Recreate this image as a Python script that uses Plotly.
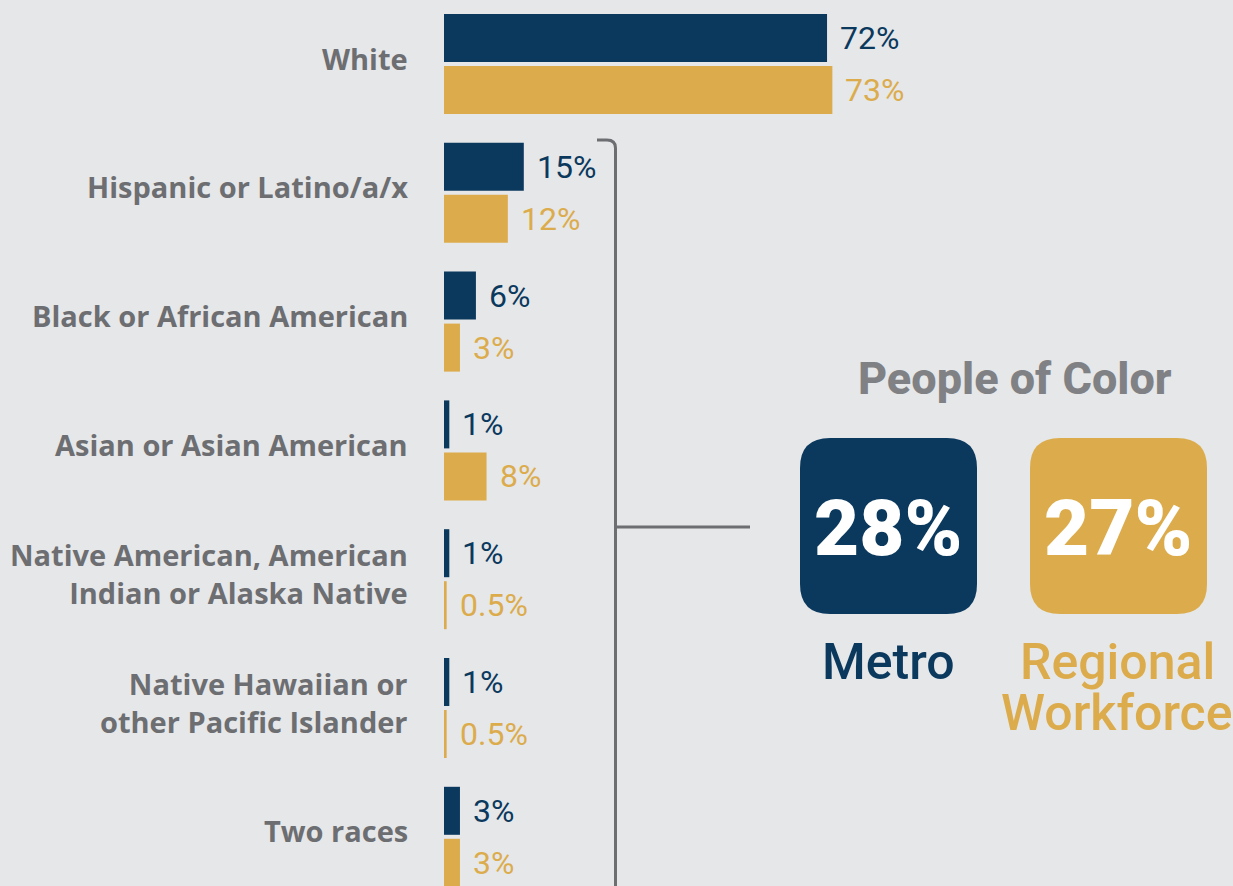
import plotly.graph_objects as go

categories = ["White", "Hispanic or Latino/a/x", "Black or African American",
              "Asian or Asian American",
              "Native American, American<br>Indian or Alaska Native",
              "Native Hawaiian or<br>other Pacific Islander", "Two races"]
metro = [72, 15, 6, 1, 1, 1, 3]
regional = [73, 12, 3, 8, 0.5, 0.5, 3]
metro_labels = ["72%", "15%", "6%", "1%", "1%", "1%", "3%"]
regional_labels = ["73%", "12%", "3%", "8%", "0.5%", "0.5%", "3%"]
series_names = ["Metro", "Regional Workforce"]
poc_title = "People of Color"
poc_values = ["28%", "27%"]

NAVY = "#0b395d"
GOLD = "#dcac4c"
BG = "#e6e7e9"
LABEL_GRAY = "#6d6e71"
TITLE_GRAY = "#808184"

W, H = 1233, 886
L = 444
PW = W - L


def xp(px):
    return (px - L) / PW


def yp(py):
    return 1 - py / H


fig = go.Figure()
fig.add_trace(go.Bar(y=categories, x=metro, orientation="h", name=series_names[0],
                     marker=dict(color=NAVY, line=dict(width=0)), hoverinfo="x+y"))
fig.add_trace(go.Bar(y=categories, x=regional, orientation="h", name=series_names[1],
                     marker=dict(color=GOLD, line=dict(width=0)), hoverinfo="x+y"))

annotations = []
# category labels
for cat in categories:
    annotations.append(dict(x=xp(410), y=cat, xref="paper", yref="y", text=cat, showarrow=False,
                            xanchor="right", yanchor="middle", align="right", yshift=6,
                            font=dict(family="Open Sans", size=29, color=LABEL_GRAY, weight="bold")))
# value labels
for cat, v, t in zip(categories, metro, metro_labels):
    annotations.append(dict(x=v, y=cat, xref="x", yref="y", text=t, showarrow=False,
                            xanchor="left", yanchor="middle", xshift=11, yshift=26,
                            font=dict(family="Roboto", size=32, color=NAVY)))
for cat, v, t in zip(categories, regional, regional_labels):
    annotations.append(dict(x=v, y=cat, xref="x", yref="y", text=t, showarrow=False,
                            xanchor="left", yanchor="middle", xshift=11, yshift=-26,
                            font=dict(family="Roboto", size=32, color=GOLD)))

# right panel
annotations.append(dict(x=xp(1015), y=yp(378), xref="paper", yref="paper", text=poc_title,
                        showarrow=False, xanchor="center", yanchor="middle",
                        font=dict(family="Roboto", size=45, color=TITLE_GRAY, weight=800)))
box_centers = [888, 1118]
box_colors = [NAVY, GOLD]
for cx, val, col in zip(box_centers, poc_values, box_colors):
    annotations.append(dict(x=xp(cx), y=yp(528), xref="paper", yref="paper", text=val,
                            showarrow=False, xanchor="center", yanchor="middle",
                            font=dict(family="Roboto", size=78, color="white", weight=900)))
annotations.append(dict(x=xp(888), y=yp(662), xref="paper", yref="paper", text=series_names[0],
                        showarrow=False, xanchor="center", yanchor="middle",
                        font=dict(family="Roboto", size=50, color=NAVY, weight=500)))
for i, word in enumerate(series_names[1].split(" ")):
    annotations.append(dict(x=xp(1117), y=yp(662 + 51 * i), xref="paper", yref="paper", text=word,
                            showarrow=False, xanchor="center", yanchor="middle",
                            font=dict(family="Roboto", size=50, color=GOLD, weight=500)))


def rounded_rect(x0, y0, x1, y1, r):
    pts = [
        f"M {xp(x0 + r)},{yp(y0)}",
        f"L {xp(x1 - r)},{yp(y0)}",
        f"Q {xp(x1)},{yp(y0)} {xp(x1)},{yp(y0 + r)}",
        f"L {xp(x1)},{yp(y1 - r)}",
        f"Q {xp(x1)},{yp(y1)} {xp(x1 - r)},{yp(y1)}",
        f"L {xp(x0 + r)},{yp(y1)}",
        f"Q {xp(x0)},{yp(y1)} {xp(x0)},{yp(y1 - r)}",
        f"L {xp(x0)},{yp(y0 + r)}",
        f"Q {xp(x0)},{yp(y0)} {xp(x0 + r)},{yp(y0)}",
        "Z",
    ]
    return " ".join(pts)


shapes = []
for cx, col in zip(box_centers, box_colors):
    shapes.append(dict(type="path", xref="paper", yref="paper",
                       path=rounded_rect(cx - 88, 438, cx + 89, 614, 30),
                       fillcolor=col, line=dict(width=0), layer="below"))

# bracket
bracket = (f"M {xp(597)},{yp(140)} L {xp(607)},{yp(140)} "
           f"Q {xp(615.5)},{yp(140)} {xp(615.5)},{yp(148)} L {xp(615.5)},{yp(900)}")
shapes.append(dict(type="path", xref="paper", yref="paper", path=bracket,
                   line=dict(color=LABEL_GRAY, width=3)))
shapes.append(dict(type="line", xref="paper", yref="paper", x0=xp(615.5), x1=xp(750),
                   y0=yp(527), y1=yp(527), line=dict(color=LABEL_GRAY, width=3)))

fig.update_layout(
    width=W, height=H,
    margin=dict(l=L, r=0, t=0, b=0),
    paper_bgcolor=BG, plot_bgcolor=BG,
    barmode="group", bargap=0.1925, bargroupgap=0.077,
    showlegend=False,
    annotations=annotations, shapes=shapes,
    xaxis=dict(range=[0, PW / 5.32], visible=False, fixedrange=True),
    yaxis=dict(type="category", range=[6.382, -0.497], showgrid=False, zeroline=False,
               showline=False, ticks="", showticklabels=False, fixedrange=True),
)

fig.write_html("out.html",
               config={"displayModeBar": False},
               post_script="document.body.style.margin='0';"
                           "document.body.style.overflow='hidden';"
                           "document.body.style.background='#e6e7e9';")
